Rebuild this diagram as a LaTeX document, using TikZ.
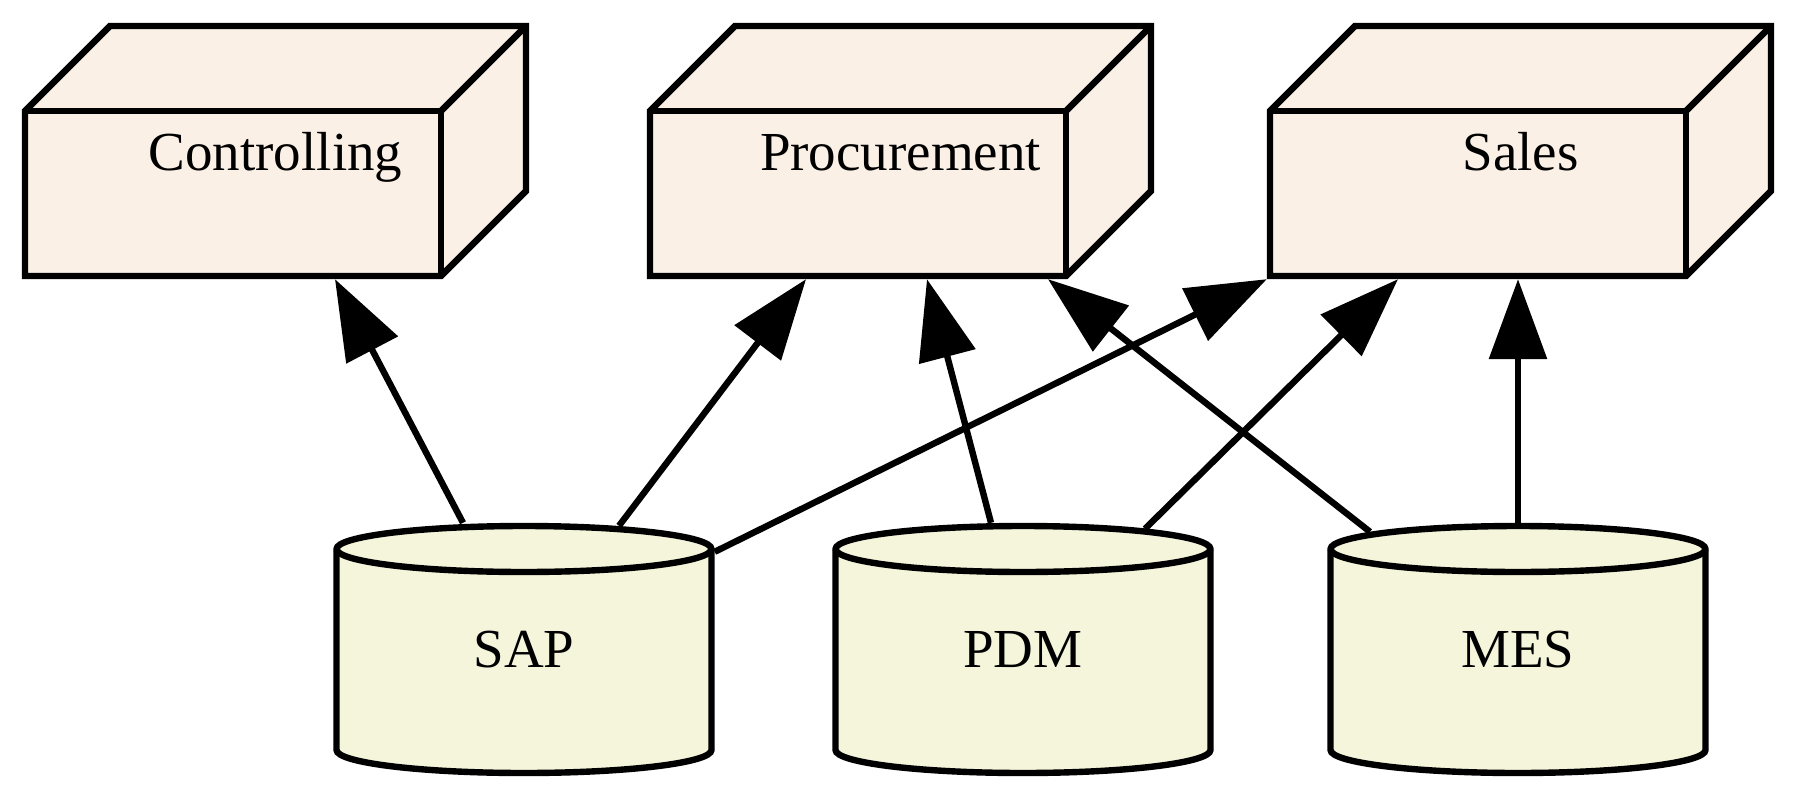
\documentclass[tikz,border=0pt]{standalone}
\usepackage{fontspec}
\setmainfont{Liberation Serif}
\usetikzlibrary{arrows.meta}
\definecolor{lino}{HTML}{FAF0E6}
\definecolor{beis}{HTML}{F5F5DC}

\begin{document}
\begin{tikzpicture}[x=1pt, y=1pt, line width=3.2pt, line join=miter,
    caja/.style={minimum width=250.5pt, minimum height=125pt, inner sep=0pt,
        text height=23pt, text depth=4pt, font=\fontsize{27.5}{33}\selectfont},
    cilindro/.style={minimum width=187.5pt, minimum height=123.5pt, inner sep=0pt,
        font=\fontsize{27.5}{33}\selectfont},
    flecha/.style={-{Triangle[length=40pt, width=28.5pt]}}]
    \useasboundingbox (0,0) rectangle (896.5,400);

    % Cajas 3D (cara frontal, tapa y lateral)
    \foreach \n/\x/\t in {ctrl/12.5/Controlling, proc/325/Procurement, sales/635/Sales} {
        \draw[fill=lino] (\x,262) -- (\x,344.5) -- (\x+42.5,387) -- (\x+250.5,387)
            -- (\x+250.5,304.5) -- (\x+208,262) -- cycle;
        \draw (\x,344.5) -- (\x+208,344.5) -- (\x+208,262);
        \draw (\x+208,344.5) -- (\x+250.5,387);
        \node[caja] (\n) at (\x+125.25,324.5) {\t};
    }

    % Cilindros (bases de datos)
    \foreach \n/\x/\t in {sap/262/SAP, pdm/511.5/PDM, mes/759/MES} {
        \draw[fill=beis] (\x-93.75,125.5) -- (\x-93.75,25)
            arc[start angle=180, end angle=360, x radius=93.75, y radius=11.5]
            -- (\x+93.75,125.5)
            arc[start angle=0, end angle=180, x radius=93.75, y radius=11.5] -- cycle;
        \draw (\x-93.75,125.5) arc[start angle=180, end angle=360, x radius=93.75, y radius=11.5];
        \node[cilindro] (\n) at (\x,75.25) {\t};
    }

    % Conexiones
    \draw[flecha] ([xshift=-30.5pt]sap.north) -- ([xshift=29.75pt]ctrl.south);
    \draw[flecha] ([xshift=47.5pt,yshift=-1.5pt]sap.north) -- ([xshift=-47.25pt]proc.south);
    \draw[flecha] ([yshift=-14.5pt]sap.north east) -- (sales.south west);
    \draw[flecha] ([xshift=-16pt]pdm.north) -- ([xshift=13.25pt]proc.south);
    \draw[flecha] ([xshift=61pt,yshift=-3pt]pdm.north) -- ([xshift=-61.25pt]sales.south);
    \draw[flecha] ([xshift=-74pt,yshift=-4.5pt]mes.north) -- ([xshift=73.75pt]proc.south);
    \draw[flecha] (mes.north) -- ([xshift=-1.25pt]sales.south);

\end{tikzpicture}
\end{document}
